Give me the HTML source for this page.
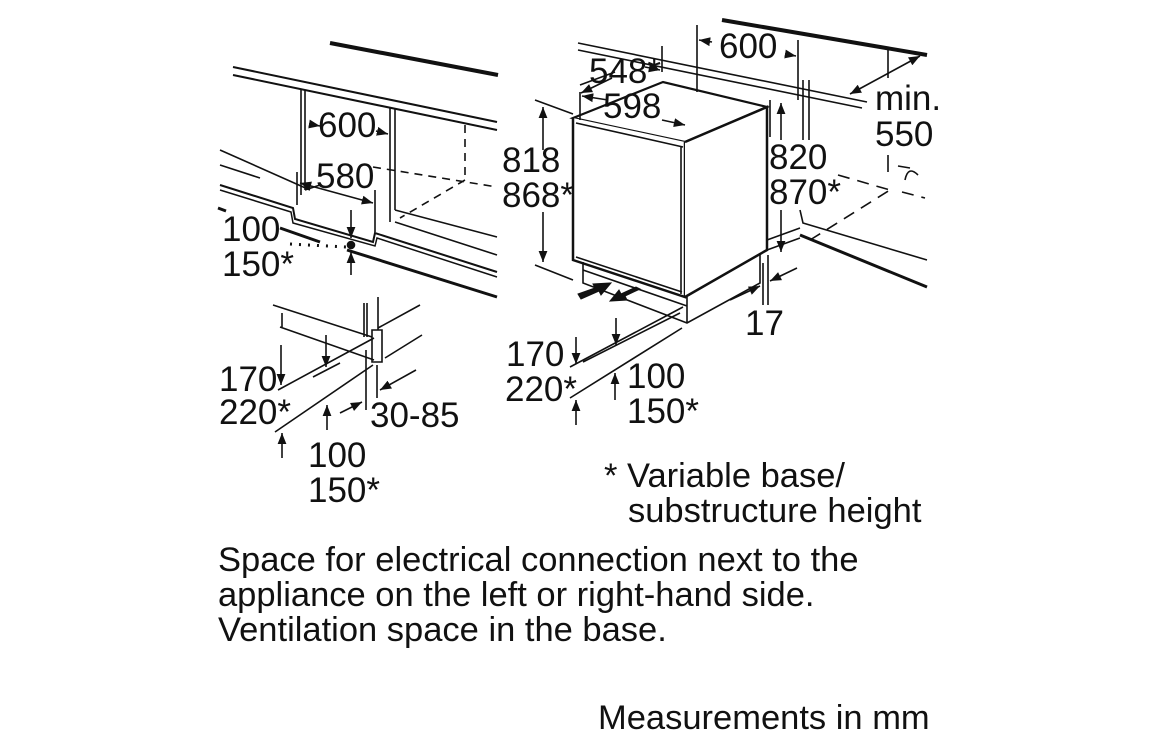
<!DOCTYPE html>
<html><head><meta charset="utf-8"><style>
html,body{margin:0;padding:0;background:#fff;width:1156px;height:742px;overflow:hidden}
svg{display:block}
text{font-family:"Liberation Sans",sans-serif;fill:#111}
</style></head><body>
<svg width="1156" height="742" viewBox="0 0 1156 742" xmlns="http://www.w3.org/2000/svg">
<defs>
<marker id="a" viewBox="0 0 10 10" refX="10" refY="5" markerWidth="7" markerHeight="7" orient="auto-start-reverse"><path d="M0,1 L10,5 L0,9 z" fill="#111"/></marker>
</defs>
<g stroke="#111" fill="none" stroke-width="1.6">
<line x1="330" y1="43" x2="498" y2="75" stroke-width="4"/>
<line x1="233" y1="67" x2="497" y2="122" stroke-width="2"/>
<line x1="233" y1="75" x2="497" y2="130" stroke-width="2"/>
<path d="M301,90 V195 M305,90 V190 M305,190 L320,185"/>
<path d="M390,108 V222 M395,108 V210 M395,210 L497,237 M395,222 L497,255"/>
<path d="M373,167 L497,187 M465,125 V178 M465,180 L400,218" stroke-dasharray="8,6"/>
<path d="M220,150 L310,190 M220,165 L260,178"/>
<path d="M220,185 L293,208 L295,219 L373,242 L375,233 L497,272" stroke-width="2"/>
<path d="M220,190 L291,212 L293,223 L375,246 L377,238 L497,277" stroke-width="1.5"/>
<line x1="280" y1="228" x2="320" y2="242" stroke-width="3"/>
<line x1="347" y1="250" x2="497" y2="297" stroke-width="3"/>
<line x1="218" y1="208" x2="226" y2="211" stroke-width="3"/>
<line x1="290" y1="244" x2="346" y2="247" stroke-dasharray="2,7" stroke-width="3"/>
<circle cx="351" cy="245" r="3.5" fill="#111"/>
<line x1="309" y1="124" x2="320" y2="126" marker-end="url(#a)"/>
<line x1="376" y1="131" x2="388" y2="134" marker-end="url(#a)"/>
<path d="M297,172 V205 M375,190 V232"/>
<line x1="300" y1="183" x2="373" y2="203" marker-start="url(#a)" marker-end="url(#a)"/>
<line x1="351" y1="210" x2="351" y2="238" marker-end="url(#a)"/>
<line x1="351" y1="275" x2="351" y2="252" marker-end="url(#a)"/>
<path d="M273,305 L372,337 M280,327 L374,360 M282,313 V327"/>
<path d="M364,303 V337 M367,303 V337 M378,297 V330 M372,330 L382,330 L382,362 L372,362 Z"/>
<path d="M378,328 L420,305 M385,358 L422,335"/>
<path d="M278,390 L374,338 M313,377 L340,363 M275,432 L373,365"/>
<line x1="281" y1="345" x2="281" y2="385" marker-end="url(#a)"/>
<line x1="326" y1="335" x2="326" y2="367" marker-end="url(#a)"/>
<line x1="282" y1="458" x2="282" y2="433" marker-end="url(#a)"/>
<line x1="327" y1="430" x2="327" y2="405" marker-end="url(#a)"/>
<path d="M366,350 V410 M377,365 V398"/>
<line x1="340" y1="413" x2="362" y2="402" marker-end="url(#a)"/>
<line x1="416" y1="370" x2="380" y2="390" marker-end="url(#a)"/>
<path d="M578,43 L867,102 M578,50 L862,108" stroke-width="1.6"/>
<line x1="722" y1="20" x2="927" y2="55" stroke-width="4"/>
<path d="M573,118 L663,82 L767,107 L685,142 Z" stroke-width="2.2"/>
<path d="M573,118 L573,260 L685,297 L685,142" stroke-width="2.5" fill="#fff"/>
<path d="M685,142 L767,107 L767,250 L685,297" stroke-width="2.5" fill="#fff"/>
<path d="M576,123 L683,147 M681,146 V294 M576,257 L682,292"/>
<path d="M583,262 V283 L687,323 L760,283 V253 M687,297 V323 M583,270 L687,306"/>
<path d="M578,294 L595,288 L593,284 L611,283 L601,295 L599,291 L581,299 Z" fill="#111" stroke-width="1"/>
<path d="M640,289 L625,296 L627,300 L610,301 L619,290 L621,294 L636,287 Z" fill="#111" stroke-width="1"/>
<path d="M535,100 L573,114 M535,265 L573,280"/>
<line x1="543" y1="150" x2="543" y2="107" marker-end="url(#a)"/>
<line x1="543" y1="212" x2="543" y2="262" marker-end="url(#a)"/>
<path d="M580,92 V120 M662,46 V72 M697,25 V92 M798,40 V100 M803,80 V140 M770,100 V137 M809,80 V140"/>
<line x1="612" y1="78" x2="581" y2="93" marker-end="url(#a)"/>
<line x1="608" y1="100" x2="582" y2="96" marker-end="url(#a)"/>
<line x1="662" y1="120" x2="685" y2="125" marker-end="url(#a)"/>
<line x1="645" y1="67" x2="660" y2="70" marker-end="url(#a)"/>
<line x1="580" y1="85" x2="615" y2="72"/>
<line x1="712" y1="42" x2="699" y2="40" marker-end="url(#a)"/>
<line x1="785" y1="54" x2="796" y2="56" marker-end="url(#a)"/>
<line x1="781" y1="140" x2="781" y2="103" marker-end="url(#a)"/>
<line x1="781" y1="210" x2="781" y2="252" marker-end="url(#a)"/>
<line x1="850" y1="94" x2="920" y2="56" marker-start="url(#a)" marker-end="url(#a)"/>
<path d="M888,50 V78 M888,155 V172"/>
<path d="M905,180 Q908,165 918,175 M898,166 L910,168" stroke-width="1.6"/>
<path d="M800,235 L927,287" stroke-width="3"/>
<path d="M800,210 L803,223 L927,260"/>
<path d="M810,240 L890,190 M838,175 L890,190 M902,192 L925,198" stroke-dasharray="12,8"/>
<path d="M767,240 L800,228 M767,250 L800,238"/>
<path d="M763,263 V305 M768,255 V305"/>
<line x1="730" y1="300" x2="760" y2="286" marker-end="url(#a)"/>
<line x1="797" y1="268" x2="770" y2="281" marker-end="url(#a)"/>
<path d="M570,367 L683,307 M583,362 L680,313 M570,398 L682,328"/>
<line x1="576" y1="337" x2="576" y2="364" marker-end="url(#a)"/>
<line x1="616" y1="318" x2="616" y2="345" marker-end="url(#a)"/>
<line x1="576" y1="425" x2="576" y2="400" marker-end="url(#a)"/>
<line x1="615" y1="400" x2="615" y2="373" marker-end="url(#a)"/>
</g>
<g font-size="35">
<text x="318" y="137">600</text>
<text x="316" y="188">580</text>
<text x="222" y="241">100</text>
<text x="222" y="276">150*</text>
<text x="219" y="391">170</text>
<text x="219" y="424">220*</text>
<text x="370" y="427">30-85</text>
<text x="308" y="467">100</text>
<text x="308" y="502">150*</text>
<text x="502" y="172">818</text>
<text x="502" y="207">868*</text>
<text x="589" y="83">548*</text>
<text x="603" y="118">598</text>
<text x="719" y="58">600</text>
<text x="769" y="169">820</text>
<text x="769" y="204">870*</text>
<text x="875" y="110">min.</text>
<text x="875" y="146">550</text>
<text x="745" y="335">17</text>
<text x="506" y="366">170</text>
<text x="505" y="401">220*</text>
<text x="627" y="388">100</text>
<text x="627" y="423">150*</text>
</g>
<g font-size="34.5">
<text x="604" y="487">* Variable base/</text>
<text x="628" y="522">substructure height</text>
<text x="218" y="571">Space for electrical connection next to the</text>
<text x="218" y="606">appliance on the left or right-hand side.</text>
<text x="218" y="641">Ventilation space in the base.</text>
<text x="598" y="729">Measurements in mm</text>
</g>
</svg>
</body></html>
